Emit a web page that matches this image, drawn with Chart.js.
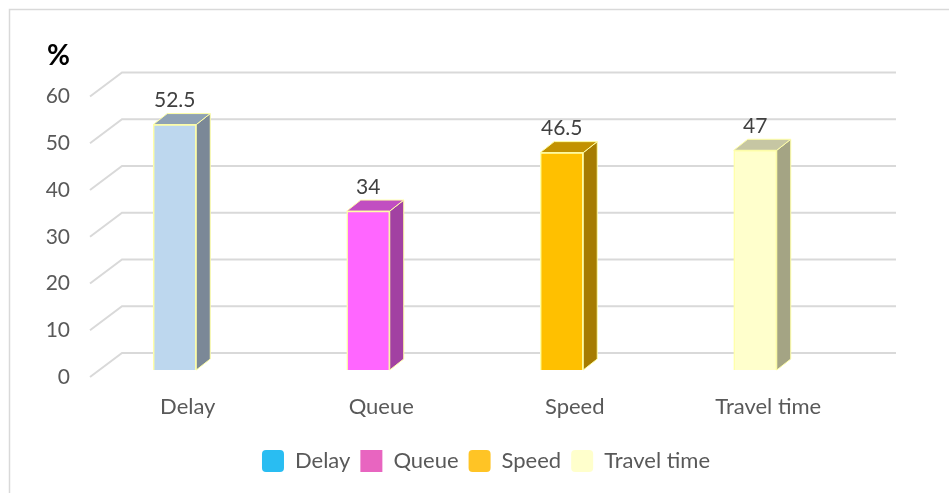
<!DOCTYPE html>
<html lang="en">
<head>
<meta charset="UTF-8">
<title>Delay, queue, speed and travel time</title>
<script src="https://cdn.jsdelivr.net/npm/chart.js"></script>
<style>
  html, body { margin: 0; padding: 0; background: #fff; }
  .chart-box { position: relative; width: 949px; height: 493px; }
</style>
</head>
<body>
<div class="chart-box"><canvas id="chart"></canvas></div>
<script>
// values (%)
const categories = ['Delay', 'Queue', 'Speed', 'Travel time'];
const values = [52.5, 34, 46.5, 47];
const yTicks = [0, 10, 20, 30, 40, 50, 60];

// face colours for the 3D columns
const frontColors = ['#BDD7EE', '#FF66FF', '#FFC000', '#FFFFCC'];
const sideColors = ['#7B8897', '#A241A2', '#A67C00', '#A4A484'];
const topColors = ['#8FA2B4', '#C14EC1', '#C29200', '#C6C6A3'];
const legendColors = ['#29BDF2', '#E865C0', '#FFC425', '#FFFFCC'];
const edgeColor = '#FFFFA8';
const gridColor = '#D9D9D9';
const textGray = '#595959';
const FONT = 'Lato, "Open Sans", sans-serif';

const DX = 14, DY = -11;   // depth offset of the columns

function poly(ctx, pts, fill) {
    ctx.beginPath();
    ctx.moveTo(pts[0][0], pts[0][1]);
    for (let i = 1; i < pts.length; i++) ctx.lineTo(pts[i][0], pts[i][1]);
    ctx.closePath();
    ctx.fillStyle = fill;
    ctx.fill();
    ctx.strokeStyle = edgeColor;
    ctx.lineWidth = 1;
    ctx.stroke();
}

const depthPlugin = {
    id: 'depth',
    afterLayout(chart) {
        // centre the legend under the plot instead of the whole canvas
        chart.legend.left += 60;
        chart.legend.right += 60;
    },
    beforeDraw(chart) {
        const ctx = chart.ctx;
        ctx.save();
        ctx.strokeStyle = gridColor;
        ctx.lineWidth = 1.5;
        ctx.beginPath();
        ctx.moveTo(9.5, chart.height);
        ctx.lineTo(9.5, 9.5);
        ctx.lineTo(chart.width, 9.5);
        ctx.stroke();
        ctx.restore();
    },
    beforeDatasetsDraw(chart) {
        const { ctx, chartArea: a, scales: { y } } = chart;
        ctx.save();
        ctx.strokeStyle = gridColor;
        ctx.lineWidth = 2;
        yTicks.forEach(v => {
            const py = y.getPixelForValue(v);
            ctx.beginPath();
            ctx.moveTo(a.left + 12, py + 7);
            ctx.lineTo(a.left + 44, py - 17);
            ctx.lineTo(a.right + 44, py - 17);
            ctx.stroke();
        });
        ctx.restore();
    },
    afterDatasetsDraw(chart) {
        const ctx = chart.ctx;
        const ds = chart.data.datasets[0];
        ctx.save();
        chart.getDatasetMeta(0).data.forEach((bar, i) => {
            const { x, y, base, width } = bar.getProps(['x', 'y', 'base', 'width'], true);
            const l = x - width / 2, r = x + width / 2;
            poly(ctx, [[r, y], [r + DX, y + DY], [r + DX, base + DY], [r, base]], sideColors[i]);
            poly(ctx, [[l, y], [l + DX, y + DY], [r + DX, y + DY], [r, y]], topColors[i]);
            ctx.fillStyle = '#404040';
            ctx.font = '21px ' + FONT;
            ctx.textAlign = 'center';
            ctx.textBaseline = 'middle';
            ctx.fillText(String(ds.data[i]), x, y - 24);
        });
        ctx.restore();
    },
    afterDraw(chart) {
        const { ctx, chartArea: a } = chart;
        ctx.save();
        ctx.fillStyle = '#000';
        ctx.font = 'bold 28px ' + FONT;
        ctx.textAlign = 'left';
        ctx.textBaseline = 'middle';
        ctx.fillText('%', a.left - 31, a.top - 34);
        ctx.restore();
    }
};

new Chart(document.getElementById('chart'), {
    type: 'bar',
    data: {
        labels: categories,
        datasets: [{
            data: values,
            backgroundColor: frontColors,
            borderColor: edgeColor,
            borderWidth: 1.5,
            barThickness: 43
        }]
    },
    options: {
        responsive: true,
        maintainAspectRatio: false,
        animation: false,
        layout: { padding: { top: 89.5, left: 0, right: 97, bottom: 11 } },
        scales: {
            x: {
                grid: { display: false, drawTicks: false },
                border: { display: false },
                ticks: { color: textGray, font: { family: FONT, size: 22 }, padding: 24, labelOffset: 13 },
                afterFit(s) { s.height = 70; }
            },
            y: {
                min: 0,
                max: 60,
                grid: { display: false, drawTicks: false },
                border: { display: false },
                ticks: { stepSize: 10, color: textGray, font: { family: FONT, size: 21 }, padding: 8, labelOffset: 7 },
                afterFit(s) { s.width = 78; }
            }
        },
        plugins: {
            tooltip: { enabled: false },
            legend: {
                position: 'bottom',
                labels: {
                    color: textGray,
                    font: { family: FONT, size: 22 },
                    boxWidth: 22,
                    boxHeight: 22,
                    padding: 10,
                    useBorderRadius: true,
                    generateLabels() {
                        return categories.map((c, i) => ({
                            text: c,
                            fillStyle: legendColors[i],
                            strokeStyle: legendColors[i],
                            lineWidth: 0,
                            borderRadius: i === 1 ? 0 : 4,
                            fontColor: textGray,
                            index: i
                        }));
                    }
                }
            }
        }
    },
    plugins: [depthPlugin]
});
</script>
</body>
</html>
